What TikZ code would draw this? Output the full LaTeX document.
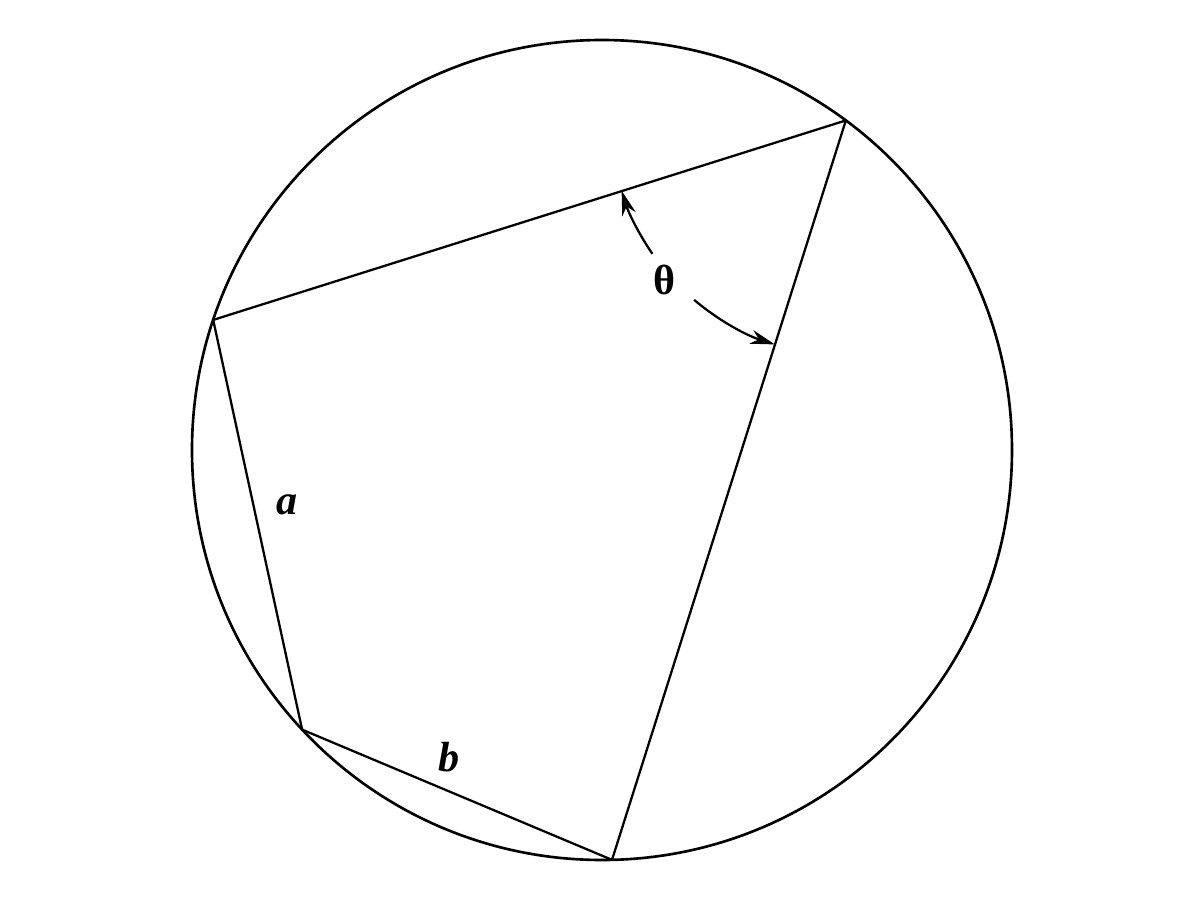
\documentclass[tikz,border=0pt]{standalone}
\usepackage{fontspec}
\setmainfont{Liberation Serif}
\usetikzlibrary{arrows.meta,calc}
\begin{document}
\begin{tikzpicture}[x=0.02cm,y=0.02cm,
  edge/.style={line width=1.3pt, line join=round},
  anglearc/.style={line width=1.3pt, -{Stealth[length=14pt,width=8pt]}},
  lbl/.style={font=\fontsize{24}{28}\selectfont\bfseries}]
\useasboundingbox (-602,-450) rectangle (598,450);
\coordinate (O) at (0,0);
\draw[line width=1.5pt] (O) circle (410);
\coordinate (A) at (161.5:410);
\coordinate (B) at (53.5:410);
\coordinate (C) at (-88.6:410);
\coordinate (D) at (223:410);
\draw[edge] (A) -- (B) -- (C) -- (D) -- cycle;
\draw[anglearc] ($(B)+(214.6:235)$) arc[start angle=214.6, end angle=197.4, radius=235];
\draw[anglearc] ($(B)+(229.8:235)$) arc[start angle=229.8, end angle=252.4, radius=235];
\node[lbl] (th) at (63,170) {θ};
\node[lbl] (la) at (-315,-55) {\itshape a};
\node[lbl] (lb) at (-153,-307) {\itshape b};
\end{tikzpicture}
\end{document}
